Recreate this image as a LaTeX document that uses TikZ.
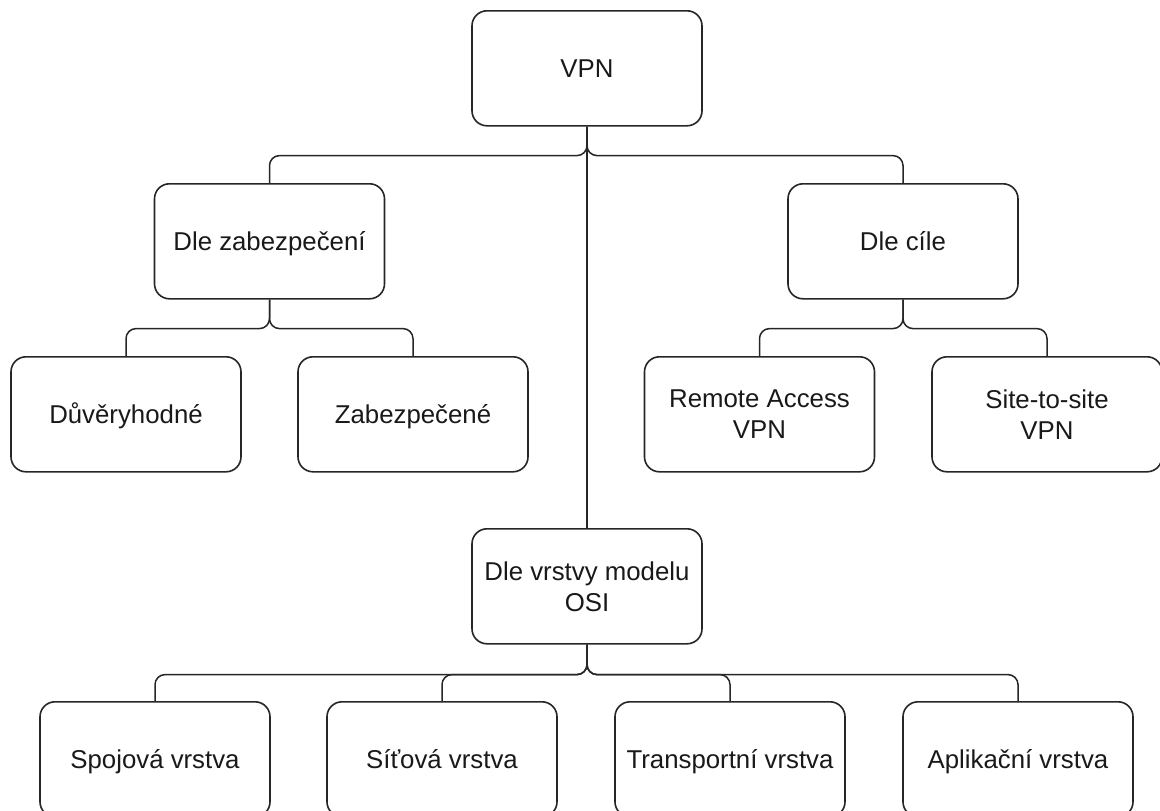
\documentclass[tikz,border=0pt]{standalone}
\usepackage{fontspec}
\setmainfont{Liberation Sans}
\begin{document}
\begin{tikzpicture}[x=1pt,y=-1pt,
  box/.style={draw=black!85, line width=1.6pt, rounded corners=15pt,
    minimum width=230pt, minimum height=115pt, inner sep=0pt,
    align=center, anchor=north,
    font=\fontsize{25.8}{31}\selectfont, text=black!90},
  oneline/.style={box, text height=25pt, text depth=6pt},
  conn/.style={draw=black!85, line width=1.5pt, rounded corners=10pt}]
\useasboundingbox (0,0) rectangle (1160,811);

% root
\node[oneline] (vpn) at (587,10) {VPN};

% first level
\node[oneline] (sec) at (269.5,183) {Dle zabezpečení};
\node[oneline] (goal) at (903,183) {Dle cíle};
\node[box] (osi) at (587,528) {Dle vrstvy modelu\\OSI};

% second level
\node[oneline] (trust) at (126,356) {Důvěryhodné};
\node[oneline] (secured) at (413,356) {Zabezpečené};
\node[box] (remote) at (759.5,356) {Remote Access\\VPN};
\node[box] (site) at (1047,356) {Site-to-site\\VPN};

% OSI layers
\node[oneline] (link) at (155,701) {Spojová vrstva};
\node[oneline] (net) at (442,701) {Síťová vrstva};
\node[oneline] (trans) at (730,701) {Transportní vrstva};
\node[oneline] (app) at (1018,701) {Aplikační vrstva};

% connectors
\draw[conn] (vpn.south) -- ++(0,29) -| (sec.north);
\draw[conn] (vpn.south) -- ++(0,29) -| (goal.north);
\draw[conn] (vpn.south) -- (osi.north);

\draw[conn] (sec.south) -- ++(0,29) -| (trust.north);
\draw[conn] (sec.south) -- ++(0,29) -| (secured.north);
\draw[conn] (goal.south) -- ++(0,29) -| (remote.north);
\draw[conn] (goal.south) -- ++(0,29) -| (site.north);

\draw[conn] (osi.south) -- ++(0,30) -| (link.north);
\draw[conn] (osi.south) -- ++(0,30) -| (net.north);
\draw[conn] (osi.south) -- ++(0,30) -| (trans.north);
\draw[conn] (osi.south) -- ++(0,30) -| (app.north);
\end{tikzpicture}
\end{document}
